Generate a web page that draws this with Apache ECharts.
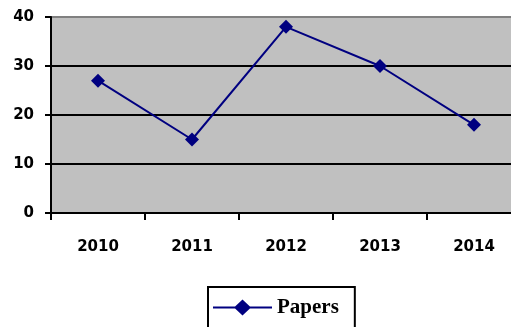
<!DOCTYPE html>
<html>
<head>
<meta charset="utf-8">
<script src="https://cdn.jsdelivr.net/npm/echarts@6/dist/echarts.min.js"></script>
<style>
  html, body { margin: 0; padding: 0; background: #fff; }
  #chart { width: 511px; height: 327px; }
</style>
</head>
<body>
<div id="chart"></div>
<script>
// Papers published per year
const years = ['2010', '2011', '2012', '2013', '2014'];
const papers = [27, 15, 38, 30, 18];
const yTicks = [0, 10, 20, 30, 40];

const chart = echarts.init(document.getElementById('chart'));
const labelFont = { fontFamily: 'DejaVu Sans', fontWeight: 'bold', fontSize: 15, color: '#000' };

// Legend glyph: horizontal stroke with a diamond marker in the middle
const legendIcon = 'path://M0,7.1L59,7.1L59,8.9L0,8.9Z M29.5,0L38,8L29.5,16L21,8Z';

chart.setOption({
  animation: false,
  grid: {
    left: 51, top: 17, width: 470, height: 196,
    show: true, backgroundColor: '#c0c0c0', borderWidth: 0,
    containLabel: false,
    outerBoundsMode: 'none'
  },
  xAxis: {
    type: 'category',
    data: years,
    boundaryGap: true,
    axisLine: { lineStyle: { color: '#000', width: 2 } },
    axisTick: { show: true, length: 7, lineStyle: { color: '#000', width: 2 } },
    axisLabel: Object.assign({ margin: 27 }, labelFont),
    splitLine: { show: false }
  },
  yAxis: {
    type: 'value',
    min: yTicks[0], max: yTicks[yTicks.length - 1], interval: 10,
    axisLine: { show: true, lineStyle: { color: '#000', width: 2 } },
    axisTick: { show: true, length: 6, lineStyle: { color: '#000', width: 2 } },
    axisLabel: Object.assign({ margin: 17 }, labelFont),
    splitLine: { show: true, lineStyle: { color: ['#000', '#000', '#000', '#000', '#808080'], width: 2 } }
  },
  legend: {
    left: 208, top: 287,
    padding: [10, 16, 20, 5],
    borderColor: '#000', borderWidth: 2,
    icon: legendIcon,
    itemWidth: 59, itemHeight: 16,
    itemGap: 5,
    textStyle: { fontFamily: 'Liberation Serif', fontWeight: 'bold', fontSize: 21, color: '#000' },
    data: ['Papers']
  },
  series: [{
    name: 'Papers',
    type: 'line',
    data: papers,
    symbol: 'diamond',
    symbolSize: 14,
    lineStyle: { color: '#000080', width: 2 },
    itemStyle: { color: '#000080' }
  }]
});
</script>
</body>
</html>
